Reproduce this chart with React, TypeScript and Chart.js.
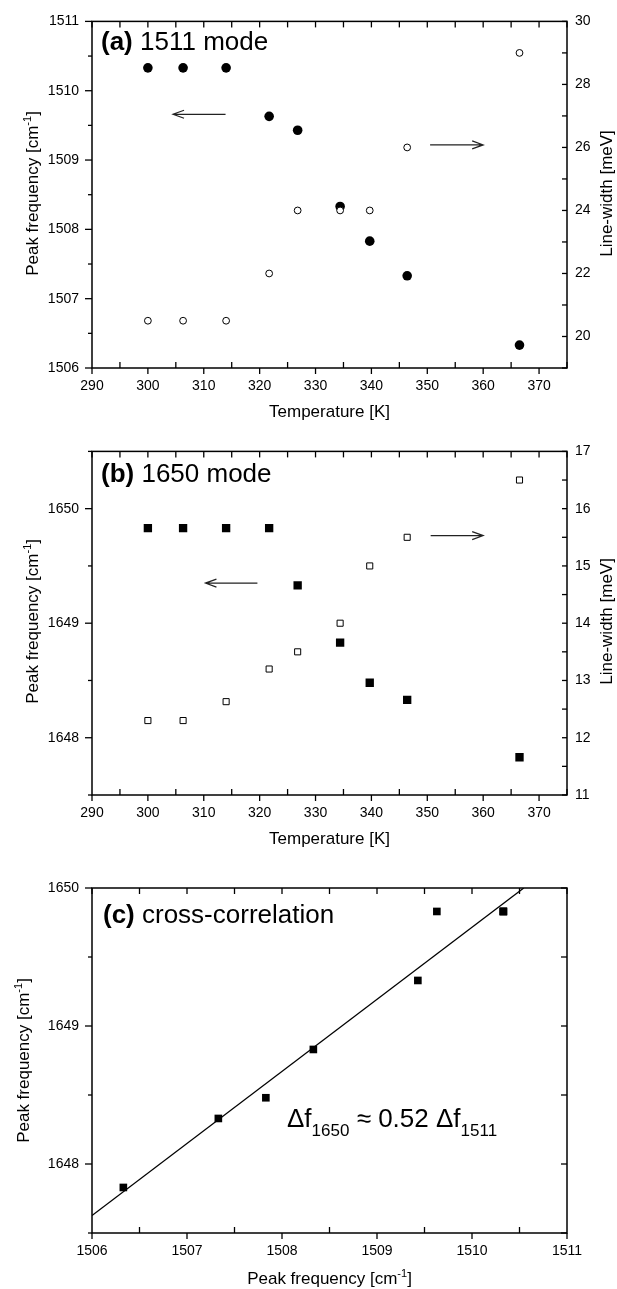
import React, { useEffect, useRef } from 'react';
import { Chart, registerables } from 'chart.js';

Chart.register(...registerables);

// ---------------- data ----------------
const temperatures = [300, 306.3, 314, 321.7, 326.8, 334.4, 339.7, 346.4, 366.5];
const peak1511 = [1510.33, 1510.33, 1510.33, 1509.63, 1509.43, 1508.33, 1507.83, 1507.33, 1506.33];
const width1511 = [20.5, 20.5, 20.5, 22.0, 24.0, 24.0, 24.0, 26.0, 29.0];
const peak1650 = [1649.83, 1649.83, 1649.83, 1649.83, 1649.33, 1648.83, 1648.48, 1648.33, 1647.83];
const width1650 = [12.3, 12.3, 12.63, 13.2, 13.5, 14.0, 15.0, 15.5, 16.5];
const fitX = [1506, 1510.545];
const fitY = [1647.627, 1650.0];

// tick values
const tempTicks = [290, 300, 310, 320, 330, 340, 350, 360, 370];
const tempMinor = [295, 305, 315, 325, 335, 345, 355, 365, 375];
const freq1511Ticks = [1506, 1507, 1508, 1509, 1510, 1511];
const freq1511Minor = [1506.5, 1507.5, 1508.5, 1509.5, 1510.5];
const width1511Ticks = [20, 22, 24, 26, 28, 30];
const width1511Minor = [19, 21, 23, 25, 27, 29];
const freq1650Ticks = [1648, 1649, 1650];
const freq1650Minor = [1647.5, 1648.5, 1649.5, 1650.5];
const width1650Ticks = [11, 12, 13, 14, 15, 16, 17];
const width1650Minor = [11.5, 12.5, 13.5, 14.5, 15.5, 16.5];
const corrXTicks = [1506, 1507, 1508, 1509, 1510, 1511];
const corrXMinor = [1506.5, 1507.5, 1508.5, 1509.5, 1510.5];
const corrYTicks = [1648, 1649, 1650];
const corrYMinor = [1647.5, 1648.5, 1649.5];

// arrows (data coordinates): [y, xStart, xTip]
const arrowA_left = [1509.66, 313.9, 304.5];
const arrowA_right = [26.08, 350.5, 360.0];
const arrowB_left = [1649.35, 319.6, 310.3];
const arrowB_right = [15.53, 350.6, 360.0];

const FONT = '"Liberation Sans", Arial, Helvetica, sans-serif';
const TICK_FONT = { family: FONT, size: 14 };

type Seg = { t: string; size: number; bold?: boolean; dy?: number };

function drawRich(ctx: CanvasRenderingContext2D, segs: Seg[], x: number, y: number, align: 'left' | 'center', rotate = false) {
  ctx.save();
  ctx.translate(x, y);
  if (rotate) ctx.rotate(-Math.PI / 2);
  ctx.textBaseline = 'alphabetic';
  ctx.textAlign = 'left';
  ctx.fillStyle = '#000';
  let total = 0;
  const widths = segs.map((s) => {
    ctx.font = `${s.bold ? 'bold ' : ''}${s.size}px ${FONT}`;
    const w = ctx.measureText(s.t).width;
    total += w;
    return w;
  });
  let cx = align === 'center' ? -total / 2 : 0;
  segs.forEach((s, i) => {
    ctx.font = `${s.bold ? 'bold ' : ''}${s.size}px ${FONT}`;
    ctx.fillText(s.t, cx, s.dy || 0);
    cx += widths[i];
  });
  ctx.restore();
}

type TickSpec = { scale: string; side: 'left' | 'right' | 'top' | 'bottom'; values: number[]; dir: 'in' | 'out'; len: number };
type ArrowSpec = { scale: string; d: number[] };
type Deco = {
  ticks: TickSpec[];
  arrows: ArrowSpec[];
  texts: { segs: Seg[]; x: number; y: number; align: 'left' | 'center'; rotate?: boolean }[];
};

function makeDecoPlugin(deco: Deco) {
  return {
    id: 'deco',
    afterDraw(chart: any) {
      const ctx: CanvasRenderingContext2D = chart.ctx;
      const a = chart.chartArea;
      ctx.save();
      ctx.strokeStyle = '#000';
      ctx.lineWidth = 1.5;
      ctx.strokeRect(a.left, a.top, a.right - a.left, a.bottom - a.top);
      ctx.lineWidth = 1.3;
      deco.ticks.forEach((t) => {
        const s = chart.scales[t.scale];
        t.values.forEach((v) => {
          const p = s.getPixelForValue(v);
          ctx.beginPath();
          if (t.side === 'bottom') {
            ctx.moveTo(p, a.bottom);
            ctx.lineTo(p, a.bottom + (t.dir === 'out' ? t.len : -t.len));
          } else if (t.side === 'top') {
            ctx.moveTo(p, a.top);
            ctx.lineTo(p, a.top + (t.dir === 'out' ? -t.len : t.len));
          } else if (t.side === 'left') {
            ctx.moveTo(a.left, p);
            ctx.lineTo(a.left + (t.dir === 'out' ? -t.len : t.len), p);
          } else {
            ctx.moveTo(a.right, p);
            ctx.lineTo(a.right + (t.dir === 'out' ? t.len : -t.len), p);
          }
          ctx.stroke();
        });
      });
      ctx.strokeStyle = '#222';
      ctx.lineWidth = 1.2;
      deco.arrows.forEach((ar) => {
        const ys = chart.scales[ar.scale];
        const xs = chart.scales.x;
        const y = ys.getPixelForValue(ar.d[0]);
        const x1 = xs.getPixelForValue(ar.d[1]);
        const x2 = xs.getPixelForValue(ar.d[2]);
        const dir = x2 > x1 ? 1 : -1;
        ctx.beginPath();
        ctx.moveTo(x1, y);
        ctx.lineTo(x2, y);
        ctx.moveTo(x2 - dir * 11, y - 4);
        ctx.lineTo(x2, y);
        ctx.lineTo(x2 - dir * 11, y + 4);
        ctx.stroke();
      });
      ctx.restore();
      deco.texts.forEach((t) => drawRich(ctx, t.segs, t.x, t.y, t.align, !!t.rotate));
    },
  };
}

const peakTitle: Seg[] = [
  { t: 'Peak frequency [cm', size: 17 },
  { t: '-1', size: 11, dy: -7 },
  { t: ']', size: 17 },
];

const plainLabel = (v: any) => String(v);

function yAxis(min: number, max: number, ticks: number[], pos: 'left' | 'right', width: number, pad: number) {
  return {
    type: 'linear',
    position: pos,
    min,
    max,
    grid: { display: false, drawTicks: false },
    border: { display: false },
    ticks: { font: TICK_FONT, color: '#000', padding: pad, callback: plainLabel },
    afterBuildTicks: (s: any) => {
      s.ticks = ticks.map((v) => ({ value: v }));
    },
    afterFit: (s: any) => {
      s.width = width;
    },
  };
}

function xAxis(min: number, max: number, ticks: number[], height: number) {
  return {
    type: 'linear',
    position: 'bottom',
    min,
    max,
    grid: { display: false, drawTicks: false },
    border: { display: false },
    ticks: { font: TICK_FONT, color: '#000', padding: 10, maxRotation: 0, autoSkip: false, callback: plainLabel },
    afterBuildTicks: (s: any) => {
      s.ticks = ticks.map((v) => ({ value: v }));
    },
    afterFit: (s: any) => {
      s.height = height;
    },
  };
}

function baseOptions(scales: any, top: number, right: number) {
  return {
    responsive: false,
    maintainAspectRatio: false,
    devicePixelRatio: 1,
    animation: false,
    events: [],
    layout: { padding: { top, left: 0, right, bottom: 0 } },
    plugins: { legend: { display: false }, tooltip: { enabled: false } },
    scales,
  };
}

function configA() {
  const deco: Deco = {
    ticks: [
      { scale: 'x', side: 'bottom', values: tempTicks, dir: 'out', len: 6 },
      { scale: 'x', side: 'bottom', values: tempMinor, dir: 'in', len: 6 },
      { scale: 'x', side: 'top', values: [...tempTicks, ...tempMinor], dir: 'in', len: 6 },
      { scale: 'y', side: 'left', values: freq1511Ticks, dir: 'out', len: 7 },
      { scale: 'y', side: 'left', values: freq1511Minor, dir: 'out', len: 4 },
      { scale: 'y2', side: 'right', values: [...width1511Ticks, ...width1511Minor], dir: 'in', len: 5 },
    ],
    arrows: [
      { scale: 'y', d: arrowA_left },
      { scale: 'y2', d: arrowA_right },
    ],
    texts: [
      { segs: [{ t: '(a)', size: 26, bold: true }, { t: ' 1511 mode', size: 26 }], x: 101, y: 50, align: 'left' },
      { segs: peakTitle, x: 38, y: 193.5, align: 'center', rotate: true },
      { segs: [{ t: 'Line-width [meV]', size: 17 }], x: 612, y: 193.5, align: 'center', rotate: true },
      { segs: [{ t: 'Temperature [K]', size: 17 }], x: 329.5, y: 416.7, align: 'center' },
    ],
  };
  return {
    type: 'scatter',
    data: {
      datasets: [
        {
          data: temperatures.map((t, i) => ({ x: t, y: width1511[i] })),
          yAxisID: 'y2',
          pointStyle: 'circle',
          pointRadius: 3.4,
          backgroundColor: '#fff',
          borderColor: '#000',
          borderWidth: 1,
        },
        {
          data: temperatures.map((t, i) => ({ x: t, y: peak1511[i] })),
          yAxisID: 'y',
          pointStyle: 'circle',
          pointRadius: 4.8,
          backgroundColor: '#000',
          borderColor: '#000',
          borderWidth: 0,
        },
      ],
    },
    options: baseOptions(
      {
        x: xAxis(290, 375, tempTicks, 62),
        y: yAxis(1506, 1511, freq1511Ticks, 'left', 92, 13),
        y2: yAxis(19, 30, width1511Ticks, 'right', 50, 8),
      },
      19,
      0
    ),
    plugins: [makeDecoPlugin(deco)],
  };
}

function configB() {
  const deco: Deco = {
    ticks: [
      { scale: 'x', side: 'bottom', values: tempTicks, dir: 'out', len: 6 },
      { scale: 'x', side: 'bottom', values: tempMinor, dir: 'in', len: 6 },
      { scale: 'x', side: 'top', values: [...tempTicks, ...tempMinor], dir: 'in', len: 6 },
      { scale: 'y', side: 'left', values: freq1650Ticks, dir: 'out', len: 7 },
      { scale: 'y', side: 'left', values: freq1650Minor, dir: 'out', len: 4 },
      { scale: 'y2', side: 'right', values: [...width1650Ticks, ...width1650Minor], dir: 'in', len: 5 },
    ],
    arrows: [
      { scale: 'y', d: arrowB_left },
      { scale: 'y2', d: arrowB_right },
    ],
    texts: [
      { segs: [{ t: '(b)', size: 26, bold: true }, { t: ' 1650 mode', size: 26 }], x: 101, y: 51.7, align: 'left' },
      { segs: peakTitle, x: 38, y: 191.4, align: 'center', rotate: true },
      { segs: [{ t: 'Line-width [meV]', size: 17 }], x: 612, y: 191.4, align: 'center', rotate: true },
      { segs: [{ t: 'Temperature [K]', size: 17 }], x: 329.5, y: 413.7, align: 'center' },
    ],
  };
  return {
    type: 'scatter',
    data: {
      datasets: [
        {
          data: temperatures.map((t, i) => ({ x: t, y: width1650[i] })),
          yAxisID: 'y2',
          pointStyle: 'rect',
          pointRadius: 4.3,
          backgroundColor: '#fff',
          borderColor: '#000',
          borderWidth: 1,
        },
        {
          data: temperatures.map((t, i) => ({ x: t, y: peak1650[i] })),
          yAxisID: 'y',
          pointStyle: 'rect',
          pointRadius: 5.9,
          backgroundColor: '#000',
          borderColor: '#000',
          borderWidth: 0,
        },
      ],
    },
    options: baseOptions(
      {
        x: xAxis(290, 375, tempTicks, 65),
        y: yAxis(1647.5, 1650.5, freq1650Ticks, 'left', 92, 13),
        y2: yAxis(11, 17, width1650Ticks, 'right', 50, 8),
      },
      18,
      0
    ),
    plugins: [makeDecoPlugin(deco)],
  };
}

function configC() {
  const deco: Deco = {
    ticks: [
      { scale: 'x', side: 'bottom', values: corrXTicks, dir: 'out', len: 6 },
      { scale: 'x', side: 'bottom', values: corrXMinor, dir: 'in', len: 6 },
      { scale: 'x', side: 'top', values: [...corrXTicks, ...corrXMinor], dir: 'in', len: 6 },
      { scale: 'y', side: 'left', values: corrYTicks, dir: 'out', len: 7 },
      { scale: 'y', side: 'left', values: corrYMinor, dir: 'out', len: 4 },
      { scale: 'y', side: 'right', values: [...corrYTicks, ...corrYMinor], dir: 'in', len: 6 },
    ],
    arrows: [],
    texts: [
      { segs: [{ t: '(c)', size: 26, bold: true }, { t: ' cross-correlation', size: 26 }], x: 103, y: 63, align: 'left' },
      { segs: peakTitle, x: 29, y: 200.5, align: 'center', rotate: true },
      { segs: peakTitle, x: 329.5, y: 424, align: 'center' },
      {
        segs: [
          { t: '\u0394f', size: 26 },
          { t: '1650', size: 17, dy: 9 },
          { t: ' \u2248 0.52 \u0394f', size: 26 },
          { t: '1511', size: 17, dy: 9 },
        ],
        x: 287,
        y: 267,
        align: 'left',
      },
    ],
  };
  return {
    type: 'scatter',
    data: {
      datasets: [
        {
          data: peak1511.map((f, i) => ({ x: f, y: peak1650[i] })),
          pointStyle: 'rect',
          pointRadius: 5.4,
          backgroundColor: '#000',
          borderColor: '#000',
          borderWidth: 0,
        },
        {
          type: 'line',
          data: fitX.map((x, i) => ({ x, y: fitY[i] })),
          showLine: true,
          pointRadius: 0,
          borderColor: '#000',
          borderWidth: 1.3,
          fill: false,
        },
      ],
    },
    options: baseOptions(
      {
        x: xAxis(1506, 1511, corrXTicks, 56),
        y: yAxis(1647.5, 1650, corrYTicks, 'left', 92, 13),
      },
      28,
      50
    ),
    plugins: [makeDecoPlugin(deco)],
  };
}

function Panel({ top, height, make }: { top: number; height: number; make: () => any }) {
  const ref = useRef<HTMLCanvasElement | null>(null);
  useEffect(() => {
    if (!ref.current) return;
    const chart = new Chart(ref.current, make());
    return () => chart.destroy();
  }, []);
  return (
    <canvas
      ref={ref}
      width={617}
      height={height}
      style={{ position: 'absolute', left: 0, top, width: 617, height, display: 'block' }}
    />
  );
}

export default function App() {
  return (
    <div style={{ position: 'absolute', left: 0, top: 0, width: 617, height: 1289, background: '#fff', overflow: 'hidden' }}>
      <Panel top={0} height={430} make={configA} />
      <Panel top={430} height={430} make={configB} />
      <Panel top={860} height={429} make={configC} />
    </div>
  );
}
